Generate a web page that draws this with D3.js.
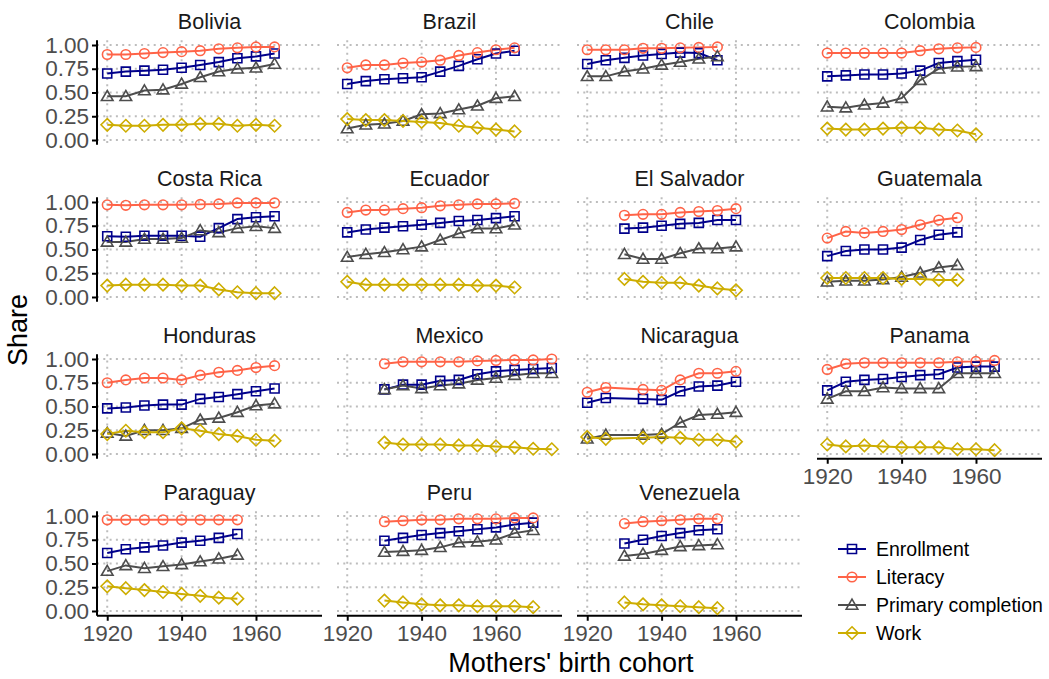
<!DOCTYPE html>
<html>
<head>
<meta charset="utf-8">
<script src="https://cdn.jsdelivr.net/npm/d3@7"></script>
<style>
  body { margin: 0; background: #fff; }
  text { font-family: "Liberation Sans", Arial, sans-serif; }
</style>
</head>
<body>
<svg id="chart" width="1049" height="679"></svg>
<script>
var countries = ["Bolivia", "Brazil", "Chile", "Colombia", "Costa Rica", "Ecuador", "El Salvador", "Guatemala",
  "Honduras", "Mexico", "Nicaragua", "Panama", "Paraguay", "Peru", "Venezuela"];

var cohorts = [
  [1920, 1925, 1930, 1935, 1940, 1945, 1950, 1955, 1960, 1965],
  [1920, 1925, 1930, 1935, 1940, 1945, 1950, 1955, 1960, 1965],
  [1920, 1925, 1930, 1935, 1940, 1945, 1950, 1955],
  [1920, 1925, 1930, 1935, 1940, 1945, 1950, 1955, 1960],
  [1920, 1925, 1930, 1935, 1940, 1945, 1950, 1955, 1960, 1965],
  [1920, 1925, 1930, 1935, 1940, 1945, 1950, 1955, 1960, 1965],
  [1930, 1935, 1940, 1945, 1950, 1955, 1960],
  [1920, 1925, 1930, 1935, 1940, 1945, 1950, 1955],
  [1920, 1925, 1930, 1935, 1940, 1945, 1950, 1955, 1960, 1965],
  [1930, 1935, 1940, 1945, 1950, 1955, 1960, 1965, 1970, 1975],
  [1920, 1925, 1935, 1940, 1945, 1950, 1955, 1960],
  [1920, 1925, 1930, 1935, 1940, 1945, 1950, 1955, 1960, 1965],
  [1920, 1925, 1930, 1935, 1940, 1945, 1950, 1955],
  [1930, 1935, 1940, 1945, 1950, 1955, 1960, 1965, 1970],
  [1930, 1935, 1940, 1945, 1950, 1955]
];

var enrollment = [
  [0.70, 0.72, 0.73, 0.74, 0.76, 0.79, 0.82, 0.86, 0.88, 0.91],
  [0.59, 0.62, 0.64, 0.65, 0.66, 0.72, 0.78, 0.85, 0.91, 0.94],
  [0.80, 0.84, 0.865, 0.89, 0.905, 0.92, 0.915, 0.84],
  [0.67, 0.68, 0.69, 0.69, 0.70, 0.73, 0.81, 0.83, 0.845],
  [0.64, 0.635, 0.645, 0.645, 0.645, 0.635, 0.725, 0.82, 0.84, 0.85],
  [0.68, 0.71, 0.73, 0.745, 0.76, 0.78, 0.80, 0.81, 0.83, 0.85],
  [0.72, 0.73, 0.75, 0.77, 0.78, 0.81, 0.81],
  [0.43, 0.485, 0.50, 0.50, 0.52, 0.60, 0.655, 0.68],
  [0.48, 0.49, 0.51, 0.52, 0.52, 0.58, 0.60, 0.63, 0.66, 0.69],
  [0.68, 0.73, 0.73, 0.77, 0.78, 0.84, 0.87, 0.885, 0.895, 0.905],
  [0.54, 0.59, 0.58, 0.57, 0.66, 0.71, 0.72, 0.76],
  [0.67, 0.76, 0.78, 0.79, 0.81, 0.83, 0.84, 0.91, 0.92, 0.92],
  [0.61, 0.65, 0.67, 0.69, 0.72, 0.74, 0.77, 0.81],
  [0.74, 0.77, 0.80, 0.82, 0.84, 0.86, 0.88, 0.91, 0.93],
  [0.71, 0.75, 0.79, 0.82, 0.85, 0.86]
];

var literacy = [
  [0.90, 0.90, 0.91, 0.92, 0.93, 0.94, 0.96, 0.97, 0.98, 0.98],
  [0.76, 0.79, 0.79, 0.81, 0.82, 0.84, 0.89, 0.92, 0.95, 0.97],
  [0.95, 0.95, 0.95, 0.965, 0.965, 0.97, 0.975, 0.98],
  [0.915, 0.915, 0.915, 0.915, 0.915, 0.94, 0.96, 0.97, 0.975],
  [0.97, 0.965, 0.97, 0.97, 0.97, 0.975, 0.98, 0.99, 0.99, 0.99],
  [0.89, 0.915, 0.915, 0.93, 0.94, 0.96, 0.97, 0.98, 0.98, 0.985],
  [0.86, 0.87, 0.87, 0.89, 0.90, 0.91, 0.93],
  [0.62, 0.69, 0.675, 0.69, 0.71, 0.76, 0.81, 0.835],
  [0.75, 0.78, 0.80, 0.80, 0.78, 0.83, 0.86, 0.88, 0.91, 0.93],
  [0.95, 0.97, 0.97, 0.97, 0.97, 0.98, 0.985, 0.99, 0.99, 1.0],
  [0.65, 0.70, 0.68, 0.67, 0.78, 0.85, 0.85, 0.87],
  [0.89, 0.95, 0.96, 0.96, 0.96, 0.96, 0.96, 0.97, 0.975, 0.985],
  [0.96, 0.96, 0.96, 0.96, 0.96, 0.96, 0.96, 0.96],
  [0.94, 0.95, 0.96, 0.96, 0.97, 0.97, 0.97, 0.98, 0.98],
  [0.92, 0.94, 0.95, 0.96, 0.97, 0.97]
];

var primary = [
  [0.46, 0.46, 0.52, 0.53, 0.59, 0.66, 0.72, 0.75, 0.76, 0.80],
  [0.12, 0.16, 0.17, 0.20, 0.27, 0.28, 0.32, 0.36, 0.44, 0.46],
  [0.67, 0.67, 0.72, 0.75, 0.79, 0.82, 0.855, 0.88],
  [0.35, 0.34, 0.37, 0.39, 0.44, 0.63, 0.75, 0.77, 0.775],
  [0.58, 0.58, 0.61, 0.61, 0.62, 0.70, 0.68, 0.725, 0.745, 0.725],
  [0.42, 0.45, 0.47, 0.50, 0.53, 0.60, 0.67, 0.72, 0.72, 0.76],
  [0.45, 0.40, 0.40, 0.46, 0.51, 0.51, 0.53],
  [0.16, 0.17, 0.17, 0.185, 0.21, 0.255, 0.31, 0.335],
  [0.22, 0.19, 0.25, 0.25, 0.27, 0.36, 0.38, 0.44, 0.51, 0.53],
  [0.68, 0.72, 0.69, 0.72, 0.74, 0.78, 0.80, 0.83, 0.85, 0.85],
  [0.16, 0.20, 0.20, 0.21, 0.33, 0.41, 0.42, 0.44],
  [0.58, 0.66, 0.66, 0.70, 0.69, 0.69, 0.69, 0.85, 0.85, 0.85],
  [0.42, 0.48, 0.45, 0.47, 0.49, 0.52, 0.55, 0.59],
  [0.62, 0.63, 0.64, 0.67, 0.72, 0.73, 0.75, 0.82, 0.85],
  [0.58, 0.60, 0.64, 0.68, 0.69, 0.70]
];

var work = [
  [0.16, 0.15, 0.15, 0.16, 0.16, 0.17, 0.17, 0.15, 0.16, 0.15],
  [0.22, 0.21, 0.21, 0.20, 0.19, 0.18, 0.15, 0.13, 0.11, 0.09],
  [],
  [0.12, 0.11, 0.11, 0.12, 0.13, 0.13, 0.11, 0.10, 0.06],
  [0.12, 0.13, 0.13, 0.13, 0.12, 0.12, 0.08, 0.05, 0.04, 0.04],
  [0.16, 0.13, 0.13, 0.13, 0.13, 0.13, 0.13, 0.12, 0.12, 0.10],
  [0.19, 0.16, 0.15, 0.15, 0.12, 0.09, 0.07],
  [0.20, 0.20, 0.20, 0.20, 0.19, 0.19, 0.18, 0.18],
  [0.21, 0.245, 0.23, 0.23, 0.27, 0.245, 0.21, 0.19, 0.15, 0.14],
  [0.12, 0.10, 0.10, 0.10, 0.09, 0.09, 0.08, 0.07, 0.055, 0.05],
  [0.18, 0.16, 0.17, 0.18, 0.17, 0.15, 0.15, 0.13],
  [0.10, 0.08, 0.09, 0.08, 0.07, 0.07, 0.07, 0.05, 0.05, 0.04],
  [0.26, 0.24, 0.22, 0.20, 0.18, 0.16, 0.14, 0.13],
  [0.11, 0.09, 0.07, 0.06, 0.06, 0.05, 0.05, 0.05, 0.04],
  [0.09, 0.07, 0.06, 0.05, 0.04, 0.03]
];

var seriesNames = ["Enrollment", "Literacy", "Primary completion", "Work"];
var seriesValues = [enrollment, literacy, primary, work];
var xTicks = [1920, 1940, 1960];
var yTicks = [0, 0.25, 0.5, 0.75, 1];

var colors = ["#00008B", "#FF6347", "#4D4D4D", "#CDAD00"];
var shapes = ["square", "circle", "triangle", "diamond"];

// panel geometry
var panelW = 225, panelH = 104.5;
var left0 = 97, top0 = 40.25, colStep = 240, rowStep = 157;

var svg = d3.select("#chart");

var xScale = d3.scaleLinear().domain([1917.25, 1977.75]).range([0, panelW]);
var yScale = d3.scaleLinear().domain([-0.05, 1.05]).range([panelH, 0]);

function shapePath(shape) {
  switch (shape) {
    case "square": return "M-4.5,-4.5h9v9h-9z";
    case "circle": return "M4.8,0A4.8,4.8 0 1,1 -4.8,0A4.8,4.8 0 1,1 4.8,0z";
    case "triangle": return "M0,-5.8L5.8,4.2L-5.8,4.2z";
    case "diamond": return "M0,-6.2L6.2,0L0,6.2L-6.2,0z";
  }
}

var line = d3.line()
  .x(function(d) { return xScale(d.year); })
  .y(function(d) { return yScale(d.value); });

countries.forEach(function(country, i) {
  var col = i % 4, row = Math.floor(i / 4);
  var g = svg.append("g")
    .attr("transform", "translate(" + (left0 + col * colStep) + "," + (top0 + row * rowStep) + ")");

  // dotted grid
  g.selectAll(".hgrid").data(yTicks).enter().append("line")
    .attr("x1", 0).attr("x2", panelW)
    .attr("y1", function(d) { return yScale(d); }).attr("y2", function(d) { return yScale(d); })
    .style("stroke", "#bdbdbd").style("stroke-width", 2).style("stroke-dasharray", "2,4.3");
  g.selectAll(".vgrid").data(xTicks).enter().append("line")
    .attr("y1", 0).attr("y2", panelH)
    .attr("x1", function(d) { return xScale(d); }).attr("x2", function(d) { return xScale(d); })
    .style("stroke", "#bdbdbd").style("stroke-width", 2).style("stroke-dasharray", "2,4.3");

  // strip title
  g.append("text")
    .attr("x", panelW / 2).attr("y", -11)
    .attr("text-anchor", "middle")
    .style("font-size", "21.5px").style("fill", "#1a1a1a")
    .text(country);

  // y axis on first column
  if (col == 0) {
    var ya = g.append("g").call(d3.axisLeft(yScale).tickValues(yTicks).tickFormat(d3.format(".2f")).tickSize(5).tickSizeOuter(0));
    ya.select(".domain").attr("d", "M0,0V" + panelH).style("stroke", "#000").style("stroke-width", 2);
    ya.selectAll(".tick line").style("stroke", "#000").style("stroke-width", 2);
    ya.selectAll(".tick text").style("font-size", "22.5px").style("fill", "#4d4d4d")
      .style("font-family", "'Liberation Sans', Arial, sans-serif").attr("x", -8);
  }

  // x axis on bottom panels
  if (row == 3 || i == 11) {
    var xa = g.append("g").attr("transform", "translate(0," + panelH + ")")
      .call(d3.axisBottom(xScale).tickValues(xTicks).tickFormat(d3.format("d")).tickSize(5).tickSizeOuter(0));
    xa.select(".domain").attr("d", "M0,0H" + panelW).style("stroke", "#000").style("stroke-width", 2);
    xa.selectAll(".tick line").style("stroke", "#000").style("stroke-width", 2);
    xa.selectAll(".tick text").style("font-size", "22.5px").style("fill", "#4d4d4d")
      .style("font-family", "'Liberation Sans', Arial, sans-serif").attr("y", 9);
  }

  // lines and points
  seriesValues.forEach(function(series, s) {
    var pts = series[i].map(function(v, k) { return {year: cohorts[i][k], value: v}; });
    if (pts.length == 0) return;
    g.append("path").datum(pts)
      .attr("d", line)
      .style("fill", "none").style("stroke", colors[s]).style("stroke-width", 2);
  });
  seriesValues.forEach(function(series, s) {
    var pts = series[i].map(function(v, k) { return {year: cohorts[i][k], value: v}; });
    g.selectAll(".pt" + s).data(pts).enter().append("path")
      .attr("transform", function(d) { return "translate(" + xScale(d.year) + "," + yScale(d.value) + ")"; })
      .attr("d", shapePath(shapes[s]))
      .style("fill", "none").style("stroke", colors[s]).style("stroke-width", 1.6);
  });
});

// axis titles
svg.append("text")
  .attr("x", 571).attr("y", 672)
  .attr("text-anchor", "middle")
  .style("font-size", "27px").style("fill", "#000")
  .text("Mothers' birth cohort");

svg.append("text")
  .attr("transform", "translate(27,330) rotate(-90)")
  .attr("text-anchor", "middle")
  .style("font-size", "27px").style("fill", "#000")
  .text("Share");

// legend
var legend = svg.append("g").attr("transform", "translate(838,549)");
seriesNames.forEach(function(name, s) {
  var lg = legend.append("g").attr("transform", "translate(0," + (s * 28) + ")");
  lg.append("line").attr("x1", 0).attr("x2", 28).attr("y1", 0).attr("y2", 0)
    .style("stroke", colors[s]).style("stroke-width", 2);
  lg.append("path").attr("transform", "translate(14,0)").attr("d", shapePath(shapes[s]))
    .style("fill", "none").style("stroke", colors[s]).style("stroke-width", 1.6);
  lg.append("text").attr("x", 38).attr("y", 7)
    .style("font-size", "19.5px").style("fill", "#000")
    .text(name);
});
</script>
</body>
</html>
